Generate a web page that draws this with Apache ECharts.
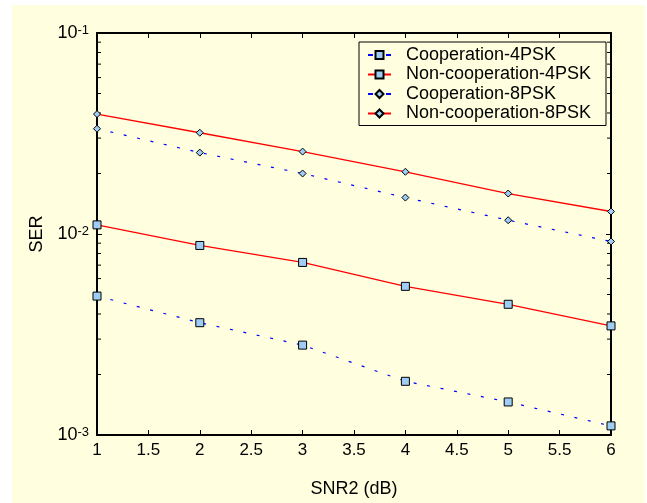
<!DOCTYPE html>
<html>
<head>
<meta charset="utf-8">
<script src="https://cdn.jsdelivr.net/npm/echarts@6/dist/echarts.min.js"></script>
<style>
  html, body { margin: 0; padding: 0; background: #ffffff; }
  #wrap { position: relative; width: 647px; height: 503px; }
  #bg { position: absolute; left: 12px; top: 5px; width: 633px; height: 498px; background: #ffffe0; }
  #chart { position: absolute; left: 0; top: 0; width: 647px; height: 503px; }
</style>
</head>
<body>
<div id="wrap"><div id="bg"></div><div id="chart"></div></div>
<script>
const snr = [1, 2, 3, 4, 5, 6];
const coop4 = [0.00491, 0.00362, 0.00280, 0.00185, 0.00146, 0.00111];
const noncoop4 = [0.0111, 0.00877, 0.00722, 0.00549, 0.00447, 0.00349];
const coop8 = [0.0334, 0.0254, 0.0200, 0.01518, 0.01171, 0.00918];
const noncoop8 = [0.0395, 0.0319, 0.0257, 0.0204, 0.0159, 0.01294];
const seriesNames = ['Cooperation-4PSK', 'Non-cooperation-4PSK', 'Cooperation-8PSK', 'Non-cooperation-8PSK'];
const xTicks = { min: 1, max: 6, interval: 0.5 };
const yRange = { min: 0.001, max: 0.1 };
const minorTickValues = [0.002, 0.003, 0.004, 0.005, 0.006, 0.007, 0.008, 0.009,
                         0.02, 0.03, 0.04, 0.05, 0.06, 0.07, 0.08, 0.09];

const FONT = 'Liberation Sans, Arial, Helvetica, sans-serif';
const MARK = '#9fcdf5';
const BLUE = '#0000ff';
const RED = '#ff0000';

function pairs(ys) { return snr.map((x, i) => [x, ys[i]]); }

const chart = echarts.init(document.getElementById('chart'), null, { renderer: 'canvas' });

const axisLineStyle = { show: true, lineStyle: { color: '#000', width: 2 } };

function lineSeries(name, ys, color, dashed, symbol, size) {
  return {
    name: name,
    type: 'line',
    data: pairs(ys),
    symbol: symbol,
    symbolSize: size,
    showAllSymbol: true,
    clip: false,
    z: 3,
    lineStyle: { color: color, width: dashed ? 1.2 : 1.3, type: dashed ? [3, 10.7] : 'solid' },
    itemStyle: { color: MARK, borderColor: '#000', borderWidth: 1 },
    emphasis: { disabled: true }
  };
}

const option = {
  animation: false,
  textStyle: { fontFamily: FONT },
  grid: { left: 97, top: 33, right: 36, bottom: 67, containLabel: false },
  legend: {
    orient: 'vertical',
    left: 359,
    top: 42,
    padding: [4, 8, 3, 8],
    itemWidth: 23,
    itemHeight: 10,
    itemGap: 1.5,
    borderColor: '#000',
    borderWidth: 1,
    backgroundColor: '#ffffe0',
    selectedMode: false,
    textStyle: { fontSize: 18, fontFamily: FONT, color: '#000', width: 192, lineHeight: 18, padding: [0, 0, 0, 10] },
    data: [
      { name: seriesNames[0], lineStyle: { type: [5, 13] } },
      { name: seriesNames[1] },
      { name: seriesNames[2], lineStyle: { type: [5, 13] } },
      { name: seriesNames[3] }
    ]
  },
  xAxis: [
    {
      type: 'value', position: 'bottom',
      min: xTicks.min, max: xTicks.max, interval: xTicks.interval,
      name: 'SNR2 (dB)', nameLocation: 'middle', nameGap: 45,
      nameTextStyle: { fontSize: 18, color: '#000', fontFamily: FONT },
      axisLine: axisLineStyle,
      axisTick: { show: true, inside: true, length: 5, lineStyle: { color: '#000', width: 1 } },
      axisLabel: { fontSize: 17, color: '#000', margin: 7, fontFamily: FONT },
      splitLine: { show: false }
    },
    {
      type: 'value', position: 'top',
      min: xTicks.min, max: xTicks.max, interval: xTicks.interval,
      axisLine: axisLineStyle,
      axisTick: { show: true, inside: true, length: 5, lineStyle: { color: '#000', width: 1 } },
      axisLabel: { show: false },
      splitLine: { show: false }
    }
  ],
  yAxis: [
    {
      type: 'log', logBase: 10, position: 'left',
      min: yRange.min, max: yRange.max,
      name: 'SER', nameLocation: 'middle', nameGap: 48, nameRotate: 90,
      nameTextStyle: { fontSize: 18, color: '#000', fontFamily: FONT },
      axisLine: axisLineStyle,
      axisTick: { show: true, inside: true, length: 5, lineStyle: { color: '#000', width: 1 } },
      axisLabel: {
        margin: 8,
        color: '#000',
        formatter: function (v) {
          const e = Math.round(Math.log10(v));
          return '{b|10}{s|' + e + '}';
        },
        rich: {
          b: { fontSize: 18, fontFamily: FONT, color: '#000' },
          s: { fontSize: 13, fontFamily: FONT, color: '#000', verticalAlign: 'top' }
        }
      },
      splitLine: { show: false }
    },
    {
      type: 'log', logBase: 10, position: 'right',
      min: yRange.min, max: yRange.max,
      axisLine: axisLineStyle,
      axisTick: { show: true, inside: true, length: 5, lineStyle: { color: '#000', width: 1 } },
      axisLabel: { show: false },
      splitLine: { show: false }
    }
  ],
  series: [
    {
      name: 'minorTicks',
      type: 'custom',
      silent: true,
      clip: false,
      z: 1,
      data: minorTickValues.map(v => [xTicks.min, v]),
      renderItem: function (params, api) {
        const y = api.coord([xTicks.min, api.value(1)])[1];
        const cs = params.coordSys;
        const st = { stroke: '#000', lineWidth: 1 };
        return {
          type: 'group',
          children: [
            { type: 'line', shape: { x1: cs.x, y1: y, x2: cs.x + 4, y2: y }, style: st },
            { type: 'line', shape: { x1: cs.x + cs.width - 4, y1: y, x2: cs.x + cs.width, y2: y }, style: st }
          ]
        };
      }
    },
    lineSeries(seriesNames[0], coop4, BLUE, true, 'rect', 8),
    lineSeries(seriesNames[1], noncoop4, RED, false, 'rect', 8),
    lineSeries(seriesNames[2], coop8, BLUE, true, 'diamond', 7),
    lineSeries(seriesNames[3], noncoop8, RED, false, 'diamond', 7)
  ]
};

chart.setOption(option);
</script>
</body>
</html>
